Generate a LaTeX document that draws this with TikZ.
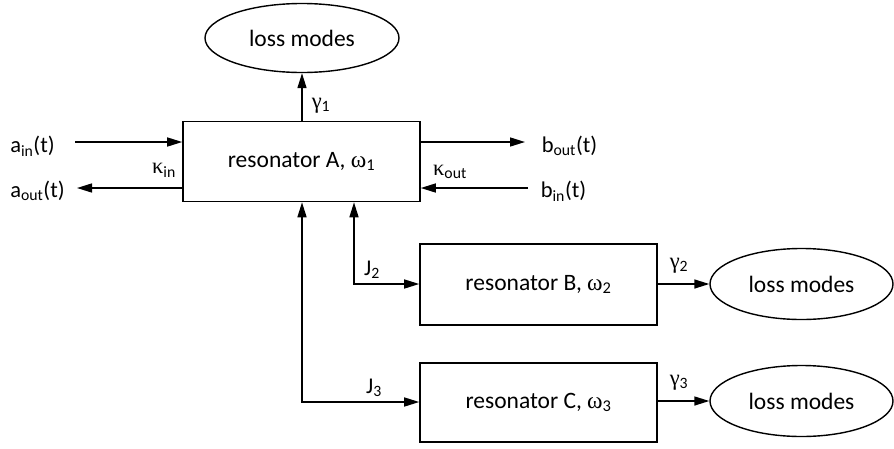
\documentclass[tikz,border=0pt]{standalone}
\usepackage{fontspec}
\setmainfont{Carlito}
\newfontfamily\grk{Liberation Serif}
\usetikzlibrary{shapes.geometric,arrows.meta}
\newcommand{\sbs}[1]{\textsubscript{#1}}
\newcommand{\gl}[1]{{\grk #1}}
\begin{document}
\begin{tikzpicture}[x=1pt,y=-1pt,
  every node/.style={font=\fontsize{23.5}{27}\selectfont, inner sep=0pt},
  resbox/.style={draw, line width=1.6pt, minimum width=237pt, minimum height=80pt},
  lossell/.style={draw, ellipse, line width=1.4pt, minimum width=183pt, minimum height=71pt},
  arr/.style={line width=1.5pt, -{Triangle[length=15pt,width=9pt]}},
  darr/.style={line width=1.5pt, {Triangle[length=15pt,width=9pt]}-{Triangle[length=15pt,width=9pt]}},
  lbl/.style={font=\fontsize{22.5}{26}\selectfont}]
\useasboundingbox (0,0) rectangle (894,448);
\node[resbox] (A) at (301.5,161.5) {resonator A, \gl{ω}\sbs{1}};
\node[resbox, minimum height=81pt] (B) at (538.5,284.5) {resonator B, \gl{ω}\sbs{2}};
\node[resbox, minimum height=79pt] (C) at (538.5,402.5) {resonator C, \gl{ω}\sbs{3}};
\node[lossell, minimum width=194pt, minimum height=69pt] (L1) at (302,38) {loss modes};
\node[lossell] (L2) at (801.5,284) {loss modes};
\node[lossell] (L3) at (801.5,401) {loss modes};
% inputs/outputs
\node[lbl] (ain) at (32.5,146) {a\sbs{in}(t)};
\node[lbl] (aout) at (37.5,191) {a\sbs{out}(t)};
\node[lbl] (bout) at (569.5,146) {b\sbs{out}(t)};
\node[lbl] (bin) at (563.5,191) {b\sbs{in}(t)};
\coordinate (ainS) at (75,142);
\coordinate (aoutE) at (77,188);
\coordinate (boutE) at (525,142);
\coordinate (binS) at (528,188);
\draw[arr] (ainS) -- (ainS -| A.west);
\draw[arr] (aoutE -| A.west) -- (aoutE);
\draw[arr] (boutE -| A.east) -- (boutE);
\draw[arr] (binS) -- (binS -| A.east);
\node[lbl] (kin) at (164,170) {\gl{κ}\sbs{in}};
\node[lbl] (kout) at (450,172) {\gl{κ}\sbs{out}};
% loss A
\draw[arr] (A.north -| L1.south) -- (L1.south);
\node[lbl] (g1) at (321,106) {\gl{γ}\sbs{1}};
% couplings
\coordinate (j2) at (354,284);
\coordinate (j3) at (302,402);
\draw[darr] (A.south -| j2) -- (j2) -- (j2 -| B.west);
\draw[darr] (A.south -| j3) -- (j3) -- (j3 -| C.west);
\node[lbl] (J2) at (372,270) {J\sbs{2}};
\node[lbl] (J3) at (374,388) {J\sbs{3}};
% losses B, C
\draw[arr] (B.east |- L2.west) -- (L2.west);
\draw[arr] (C.east |- L3.west) -- (L3.west);
\node[lbl] (g2) at (679,266) {\gl{γ}\sbs{2}};
\node[lbl] (g3) at (679,383) {\gl{γ}\sbs{3}};
\end{tikzpicture}
\end{document}
